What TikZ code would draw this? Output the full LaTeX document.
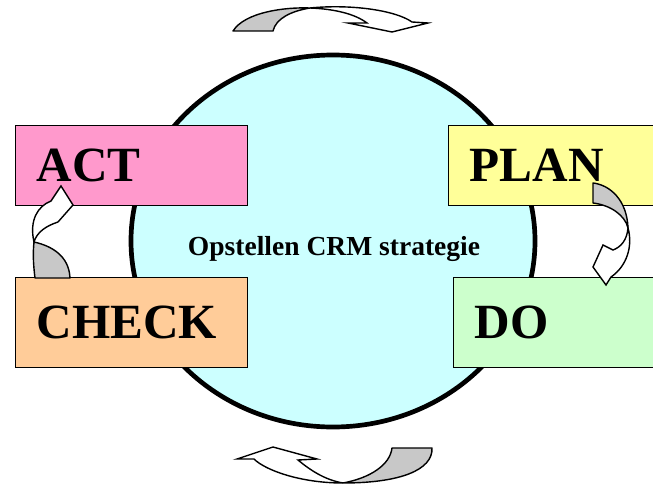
\documentclass[tikz,border=0pt]{standalone}
\usepackage{fontspec}
\setmainfont{Liberation Serif}
\usetikzlibrary{shapes.geometric}
\definecolor{actpink}{HTML}{FF99CC}
\definecolor{planyellow}{HTML}{FFFF99}
\definecolor{dogreen}{HTML}{CCFFCC}
\definecolor{checkorange}{HTML}{FFCC99}
\definecolor{crmcyan}{HTML}{CCFFFF}
\definecolor{turngray}{HTML}{C8C8C8}
\tikzset{
phase/.style={draw,line width=1.2pt,anchor=north west,inner xsep=0.63cm,text width=5.7cm,align=left,font=\fontsize{42}{48}\selectfont\bfseries},
strategy/.style={draw,ellipse,line width=4pt,fill=crmcyan,minimum width=12.12cm,minimum height=11.16cm},
turnback/.style={draw,line width=1.2pt,line join=round,fill=turngray},
turnfront/.style={draw,line width=1.2pt,line join=miter,fill=white}
}
\begin{document}
\begin{tikzpicture}[x=0.03cm,y=-0.03cm]
\useasboundingbox (0,0) rectangle (653,485);
\clip (0,0) rectangle (653,485);
\node[strategy](crm) at (333,241){};
\node[font=\fontsize{23.5}{28}\selectfont\bfseries](crmlabel) at (334,249){Opstellen CRM strategie};
\node[phase,fill=actpink,minimum height=2.4cm](act) at (15,125){ACT};
\node[phase,fill=checkorange,minimum height=2.7cm](check) at (15,277){CHECK};
\node[phase,fill=planyellow,minimum height=2.4cm](plan) at (448,125){PLAN};
\node[phase,fill=dogreen,minimum height=2.7cm](dobox) at (453,277){DO};
% top turn
\path[turnback] (233,31) .. controls (245,12) and (285,7) .. (310,8) .. controls (292,11) and (276,18) .. (273,31) -- cycle;
\path[turnfront] (310,8) .. controls (350,4) and (395,10) .. (412,22) -- (428,23) -- (392,32) -- (348,23) -- (367,23) .. controls (355,14) and (335,9) .. (310,8) -- cycle;
% bottom turn
\path[turnback] (392,448) -- (432,448) .. controls (433,470) and (400,483) .. (343,483) .. controls (370,478) and (390,465) .. (392,448) -- cycle;
\path[turnfront] (343,483) .. controls (300,483) and (265,470) .. (254,459) -- (237,459) -- (273,447) -- (317,459) -- (298,460) .. controls (310,470) and (325,480) .. (343,483) -- cycle;
% left turn
\path[turnback] (35,278) .. controls (33,262) and (33,252) .. (34,242) .. controls (52,246) and (69,256) .. (70,278) -- cycle;
\path[turnfront] (34,242) .. controls (29,220) and (38,206) .. (51,201) -- (61,186) -- (73,205) -- (58,222) .. controls (46,226) and (37,232) .. (34,242) -- cycle;
% right turn
\path[turnback] (593,183) .. controls (610,185) and (627,200) .. (628,228) .. controls (625,215) and (610,205) .. (593,203) -- cycle;
\path[turnfront] (628,228) .. controls (627,240) and (621,247) .. (613,250) -- (603,245) -- (593,267) -- (606,285) -- (611,277) .. controls (627,266) and (633,246) .. (628,228) -- cycle;
\end{tikzpicture}
\end{document}
